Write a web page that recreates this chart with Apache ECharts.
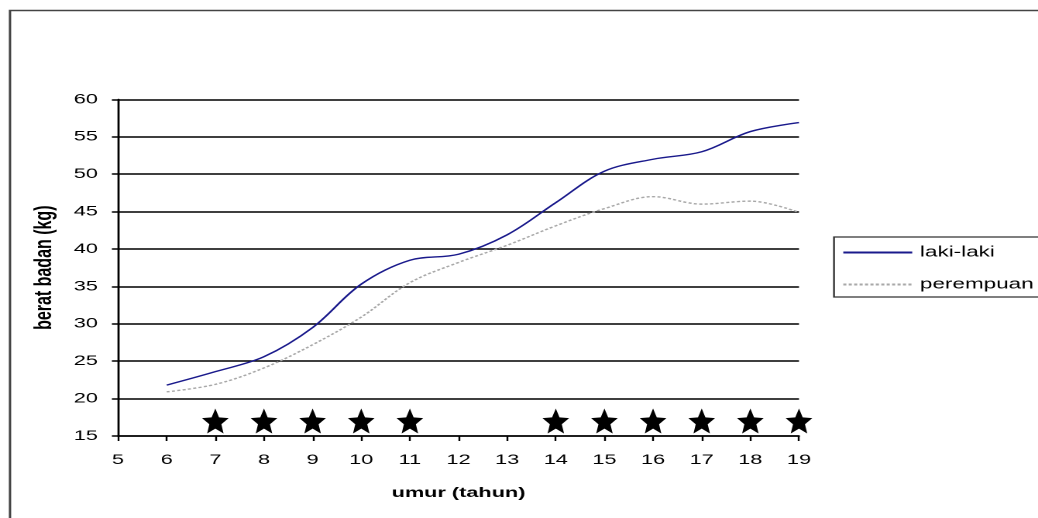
<!DOCTYPE html>
<html>
<head>
<meta charset="utf-8">
<script src="https://cdn.jsdelivr.net/npm/echarts@6/dist/echarts.min.js"></script>
<style>
  html, body { margin: 0; padding: 0; background: #fff; overflow: hidden; }
  #wrap { width: 1038px; height: 518px; overflow: hidden; }
  /* the chart is laid out on a narrower canvas and widened, which gives the broad lettering */
  #chart { width: 670px; height: 518px; transform: scaleX(1.5493); transform-origin: 0 0; }
</style>
</head>
<body>
<div id="wrap"><div id="chart"></div></div>
<script>
// age in years
var ages = [6, 7, 8, 9, 10, 11, 12, 13, 14, 15, 16, 17, 18, 19];
// body weight (kg)
var lakiLaki  = [21.8, 23.6, 25.6, 29.5, 35.3, 38.5, 39.3, 41.9, 46.2, 50.4, 52.0, 53.0, 55.7, 56.9];
var perempuan = [20.9, 21.9, 24.1, 27.2, 30.9, 35.5, 38.2, 40.5, 43.1, 45.4, 47.0, 46.0, 46.4, 44.9];
// ages marked with a star
var starAges = [7, 8, 9, 10, 11, 14, 15, 16, 17, 18, 19];
var starLevel = 17;

var seriesNames = ['laki-laki', 'perempuan'];
var xAxisTitle = 'umur (tahun)';
var yAxisTitle = 'berat badan (kg)';

var FONT = 'Liberation Sans, Arial, sans-serif';
// five-pointed star with fairly broad arms
var STAR = 'path://M50,0 L63.23,31.8 L97.55,34.55 L71.4,56.95 L79.39,90.45 L50,72.5 L20.61,90.45 L28.6,56.95 L2.45,34.55 L36.77,31.8 Z';

function pairs(xs, ys) {
  return xs.map(function (x, i) { return [x, ys[i]]; });
}

var chart = echarts.init(document.getElementById('chart'), null, { renderer: 'canvas', devicePixelRatio: 2 });

chart.setOption({
  animation: false,
  backgroundColor: '#fff',
  graphic: [{
    type: 'rect',
    shape: { x: 6.45, y: 10.5, width: 1000, height: 1000 },
    style: { fill: 'none', stroke: '#444', lineWidth: 1.5 },
    silent: true
  }],
  legend: {
    data: seriesNames,
    orient: 'vertical',
    left: 538.3,
    top: 237,
    padding: [8, 40, 5, 5],
    itemWidth: 44.5,
    itemHeight: 14,
    itemGap: 17,
    borderColor: '#333',
    borderWidth: 1.2,
    itemStyle: { opacity: 0 },
    textStyle: { fontFamily: FONT, fontSize: 14.5, color: '#000' }
  },
  grid: { left: 76.2, right: 154.3, top: 99.4, bottom: 82, containLabel: false },
  xAxis: {
    type: 'value',
    min: 5, max: 19, interval: 1,
    name: xAxisTitle,
    nameLocation: 'middle',
    nameGap: 50,
    nameTextStyle: { fontFamily: FONT, fontSize: 14, fontWeight: 'bold', color: '#000' },
    axisLine: { lineStyle: { color: '#000', width: 1.5 } },
    axisTick: { show: true, length: 5, lineStyle: { color: '#000', width: 1.2 } },
    axisLabel: { margin: 17, fontFamily: FONT, fontSize: 14, color: '#000' },
    splitLine: { show: false }
  },
  yAxis: {
    type: 'value',
    min: 15, max: 60, interval: 5,
    name: yAxisTitle,
    nameLocation: 'middle',
    nameGap: 35,
    nameTextStyle: { fontFamily: FONT, fontSize: 16, fontWeight: 'bold', color: '#000' },
    axisLine: { show: true, lineStyle: { color: '#000', width: 1.4 } },
    axisTick: { show: true, length: 4, lineStyle: { color: '#000', width: 1.5 } },
    axisLabel: { margin: 13, fontFamily: FONT, fontSize: 14, color: '#000' },
    splitLine: { show: true, lineStyle: { color: '#000', width: 1.5 } }
  },
  series: [
    {
      name: seriesNames[0],
      type: 'line',
      data: pairs(ages, lakiLaki),
      smooth: 0.35,
      symbol: 'none',
      lineStyle: { color: '#1a1a8c', width: 1.4 },
      itemStyle: { color: '#1a1a8c' },
      z: 3
    },
    {
      name: seriesNames[1],
      type: 'line',
      data: pairs(ages, perempuan),
      smooth: 0.35,
      symbol: 'none',
      lineStyle: { color: '#a8a8a8', width: 1.4, type: [2, 1.5] },
      itemStyle: { color: '#a8a8a8' },
      z: 2
    },
    {
      name: 'bintang',
      type: 'scatter',
      data: starAges.map(function (a) { return [a, starLevel]; }),
      symbol: STAR,
      symbolSize: [17.2, 25],
      symbolKeepAspect: false,
      itemStyle: { color: '#000', opacity: 1 },
      silent: true,
      z: 4
    }
  ]
});
</script>
</body>
</html>
